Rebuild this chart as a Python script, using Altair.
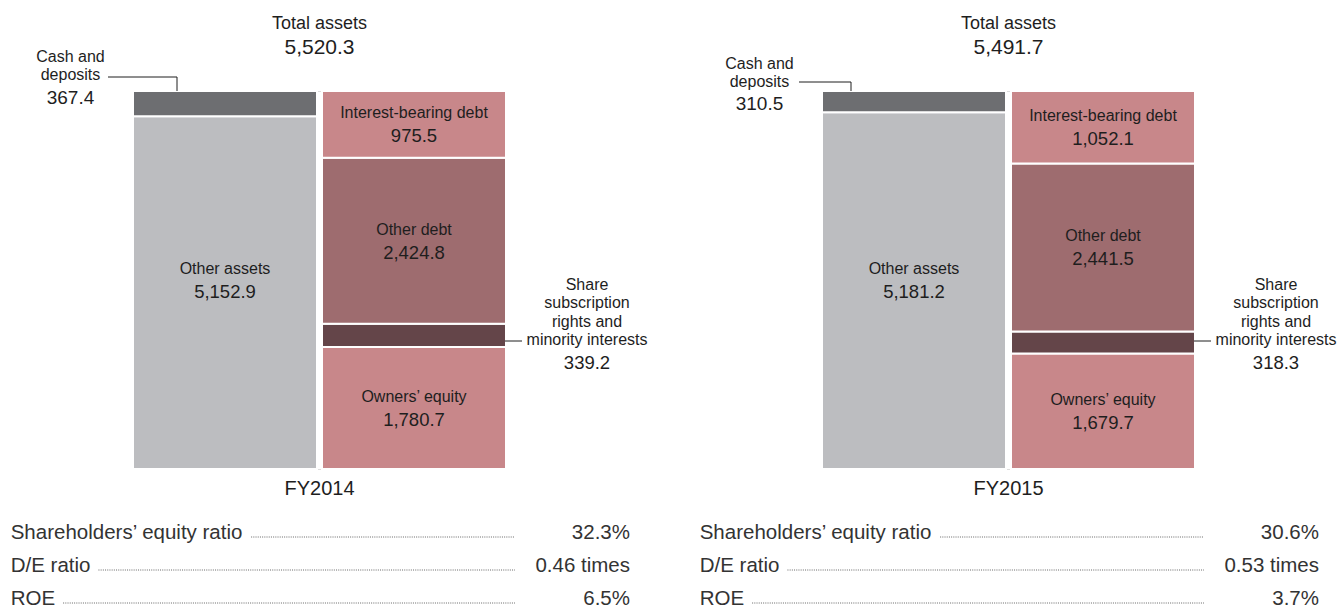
import altair as alt
import pandas as pd

FONT = "Liberation Sans"
INK = "#1e1e1e"
TABLE_INK = "#333333"

# ---------------- data ----------------
years = ["FY2014", "FY2015"]
total_assets = [5520.3, 5491.7]
cash_and_deposits = [367.4, 310.5]
other_assets = [5152.9, 5181.2]
interest_bearing_debt = [975.5, 1052.1]
other_debt = [2424.8, 2441.5]
share_and_minority = [339.2, 318.3]
owners_equity = [1780.7, 1679.7]

ratio_names = ["Shareholders’ equity ratio", "D/E ratio", "ROE"]
equity_ratio = [32.3, 30.6]
de_ratio = [0.46, 0.53]
roe = [6.5, 3.7]

seg_names = ["Other assets", "Cash and deposits", "Owners’ equity",
             "Share subscription rights and minority interests",
             "Other debt", "Interest-bearing debt"]
seg_colors = ["#bcbdc0", "#6d6e71", "#c8878a", "#644549", "#9e6c6f", "#c8878a"]

# ---------------- layout (styling only) ----------------
BAND = 184
GAP = 5
W = 2 * BAND + GAP
H = 378
P_INNER = GAP / (BAND + GAP)

# per-panel offsets of the cash-label call-out (first text line dy, value dy, rule left, rule drop x, rule dy)
CASH_LAYOUT = [dict(block=-34, val=7, left=-25, drop=44, ry=-14),
               dict(block=-27, val=13, left=-23, drop=29, ry=-9)]

ARIAL = {"S": 667, "h": 556, "a": 556, "r": 333, "e": 556, "o": 556, "l": 222,
         "d": 556, "s": 500, "’": 222, " ": 278, "q": 556, "u": 556, "i": 222,
         "t": 278, "y": 500, "D": 722, "/": 278, "E": 667, "R": 722, "O": 778}
TABLE_SIZE = 20.5


def text_w(s, size):
    return sum(ARIAL.get(c, 556) for c in s) / 1000 * size


def fmt(v):
    return f"{v:,.1f}"


def panel(i):
    total = total_assets[i]
    xs = alt.Scale(domain=["Assets", "Liabilities"], paddingInner=P_INNER, paddingOuter=0)
    ys = alt.Scale(domain=[0, total], nice=False, zero=True)

    def X(bp=None, field="col"):
        kw = dict(scale=xs, axis=None)
        if bp is not None:
            kw["bandPosition"] = bp
        return alt.X(f"{field}:N", **kw)

    def Y(f="y"):
        return alt.Y(f"{f}:Q", scale=ys, axis=None)

    # stacked segments
    segs = []
    base = 0.0
    for name, v in [("Other assets", other_assets[i]), ("Cash and deposits", cash_and_deposits[i])]:
        segs.append(dict(col="Assets", name=name, y0=base, y1=base + v, v=v))
        base += v
    base = 0.0
    for name, v in [("Owners’ equity", owners_equity[i]),
                    ("Share subscription rights and minority interests", share_and_minority[i]),
                    ("Other debt", other_debt[i]),
                    ("Interest-bearing debt", interest_bearing_debt[i])]:
        segs.append(dict(col="Liabilities", name=name, y0=base, y1=base + v, v=v))
        base += v
    df = pd.DataFrame(segs)
    df["vt"] = df["v"].map(fmt)
    df["ly"] = (df["y0"] + df["y1"]) / 2
    df.loc[df["name"] == "Other assets", "ly"] = total / 2

    bars = alt.Chart(df).mark_bar(stroke="white", strokeWidth=2).encode(
        x=X(), y=Y("y0"), y2="y1:Q",
        color=alt.Color("name:N", scale=alt.Scale(domain=seg_names, range=seg_colors), legend=None),
    )

    inside = df[df["name"].isin(["Other assets", "Other debt", "Interest-bearing debt", "Owners’ equity"])]
    in_names = alt.Chart(inside).mark_text(dy=-11, fontSize=16, font=FONT, color=INK).encode(
        x=X(), y=Y("ly"), text="name:N")
    in_vals = alt.Chart(inside).mark_text(dy=12, fontSize=18.5, font=FONT, color=INK).encode(
        x=X(), y=Y("ly"), text="vt:N")

    def one(col, y, t, col2="Liabilities"):
        return pd.DataFrame({"col": [col], "col2": [col2], "y": [y], "t": [t]})

    def label(d, bp, dx, dy, size, align="center", color=INK, lh=None):
        kw = dict(dx=dx, dy=dy, fontSize=size, font=FONT, color=color, align=align, baseline="middle")
        if lh is not None:
            kw["lineBreak"] = "\n"
            kw["lineHeight"] = lh
        return alt.Chart(d).mark_text(**kw).encode(x=X(bp), y=Y(), text="t:N")

    layers = [bars, in_names, in_vals]

    # total assets heading
    layers.append(label(one("Assets", total, "Total assets"), 1, GAP / 2, -67, 18))
    layers.append(label(one("Assets", total, fmt(total)), 1, GAP / 2, -43, 21))

    # cash and deposits call-out
    cl = CASH_LAYOUT[i]
    layers.append(label(one("Assets", total, "Cash and\ndeposits"), 0, -62.5, cl["block"], 16, lh=18))
    layers.append(label(one("Assets", total, fmt(cash_and_deposits[i])), 0, -62.5, cl["val"], 19))
    layers.append(alt.Chart(one("Assets", total, "")).mark_rule(
        color=INK, strokeWidth=1, xOffset=cl["left"], x2Offset=cl["drop"], yOffset=cl["ry"]).encode(
        x=X(0), x2=alt.X2("col:N", bandPosition=0), y=Y()))
    layers.append(alt.Chart(one("Assets", total, "")).mark_rule(
        color=INK, strokeWidth=1, xOffset=cl["drop"], yOffset=cl["ry"], y2Offset=0).encode(
        x=X(0), y=Y(), y2="y:Q"))

    # share subscription call-out
    layers.append(label(one("Liabilities", total,
                            "Share\nsubscription\nrights and\nminority interests"),
                        1, 81, 194, 16, lh=18.3))
    layers.append(label(one("Liabilities", total, fmt(share_and_minority[i])), 1, 81, 272, 18.5))
    layers.append(alt.Chart(one("Liabilities", total, "")).mark_rule(
        color=INK, strokeWidth=1, xOffset=-1, x2Offset=16, yOffset=250).encode(
        x=X(1), x2=alt.X2("col:N", bandPosition=1), y=Y()))

    # year
    layers.append(label(one("Assets", 0, years[i]), 1, GAP / 2, 20, 20))

    # ratio table
    vals = [f"{equity_ratio[i]:.1f}%", f"{de_ratio[i]:.2f} times", f"{roe[i]:.1f}%"]
    for r, (nm, vt) in enumerate(zip(ratio_names, vals)):
        dy = 64 + 33 * r
        layers.append(label(one("Assets", 0, nm), 0, -122.3, dy, TABLE_SIZE, align="left", color=TABLE_INK))
        layers.append(label(one("Liabilities", 0, vt), 1, 124, dy, TABLE_SIZE, align="right", color=TABLE_INK))
        start = -122.3 + text_w(nm, TABLE_SIZE) + 8
        layers.append(alt.Chart(one("Assets", 0, "")).mark_rule(
            color="#666666", strokeWidth=1, strokeDash=[1, 1.2],
            xOffset=start, x2Offset=9, yOffset=dy + 4).encode(
            x=X(0), x2=alt.X2("col2:N", bandPosition=1), y=Y()))

    return alt.layer(*layers).properties(width=W, height=H)


chart = alt.hconcat(panel(0), panel(1), spacing=316, bounds="flush").properties(
    padding={"left": 10, "top": 14, "right": 0, "bottom": 0}
).configure_view(stroke=None).configure(font=FONT)

chart.save("out.html", embed_options={"renderer": "svg", "actions": False})
